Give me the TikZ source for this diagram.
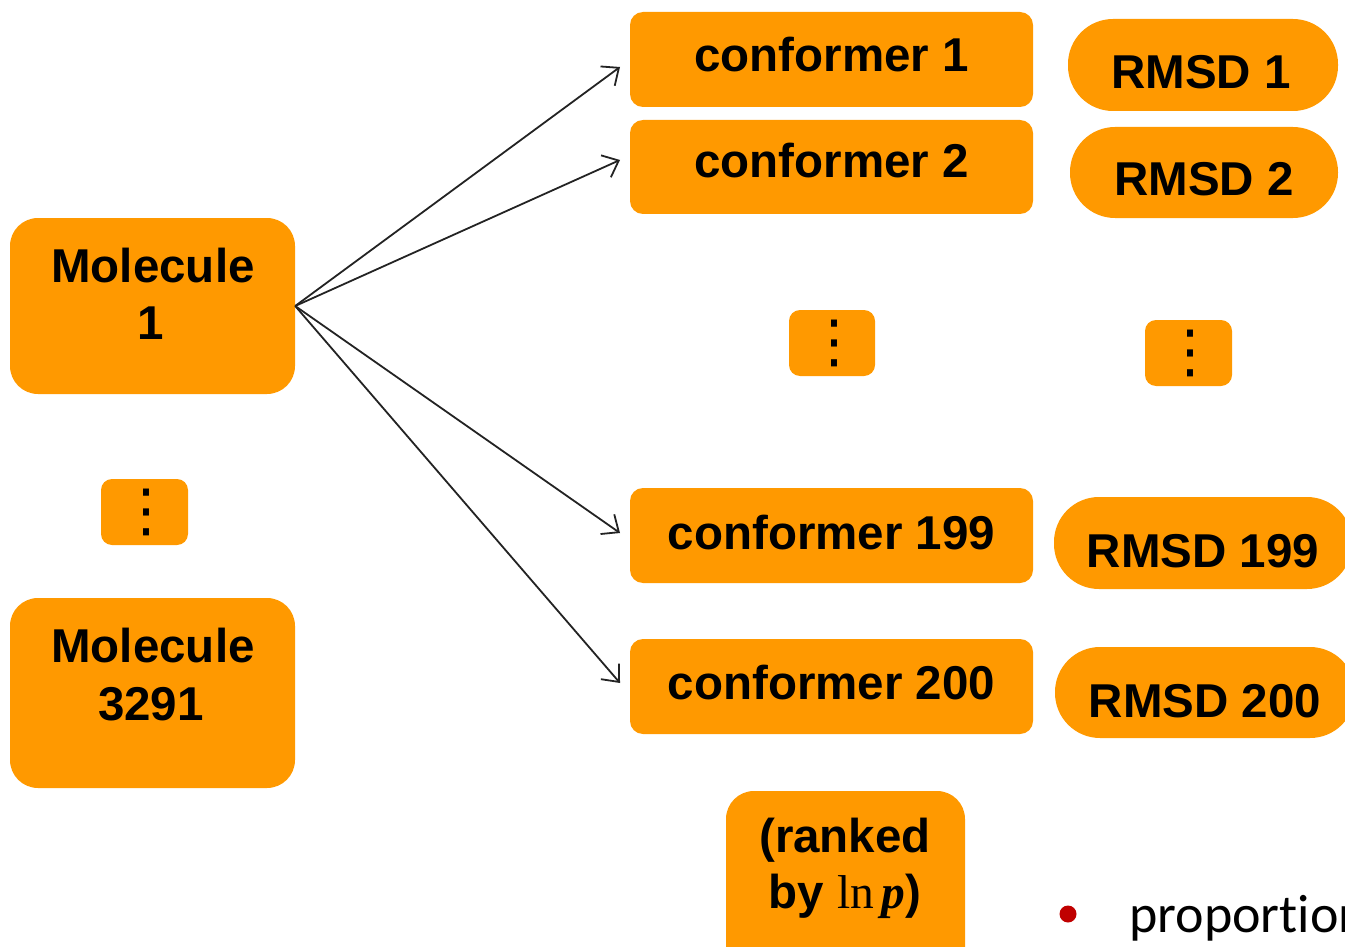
\documentclass[tikz,border=0pt]{standalone}
\usepackage{fontspec}
\setmainfont{Liberation Sans}
\newfontfamily\serifmath{Liberation Serif}
\newfontfamily\bodyfont[Ligatures=NoCommon]{Carlito}
\newfontfamily\symfont{DejaVu Sans}
\usetikzlibrary{arrows.meta}
\definecolor{boxorange}{RGB}{255,153,0}
\definecolor{bulletred}{RGB}{192,0,0}
\definecolor{arrowgray}{RGB}{35,35,35}

\tikzset{
  card/.style={rectangle, fill=boxorange, draw=none, rounded corners=13pt, inner sep=0pt},
  bigcard/.style={card, rounded corners=28pt},
  dotcard/.style={card, rounded corners=11pt, minimum width=87pt, minimum height=66pt},
  pill/.style={card, rounded corners=45pt},
  lbl/.style={anchor=base, inner sep=0pt, font=\fontsize{47.5}{57}\selectfont\bfseries},
  vdots/.style={inner sep=0pt, font=\symfont\fontsize{58}{58}\selectfont},
  link/.style={draw=arrowgray, line width=1.8pt,
    -{Straight Barb[length=14pt,width=24pt,line width=1.8pt]}},
}

\begin{document}
\begin{tikzpicture}[x=1pt,y=-1pt]
\useasboundingbox (0,0) rectangle (1345,947);
\clip (0,0) rectangle (1345,947);

% molecules
\node[bigcard, minimum width=285pt, minimum height=176pt] (m1) at (152.5,306) {};
\node[lbl] (m1a) at (153,282) {Molecule};
\node[lbl] (m1b) at (151,339) {1};

\node[dotcard] (ld) at (144.5,512) {};
\node[vdots] (ldt) at (146,512) {⋮};

\node[bigcard, minimum width=285pt, minimum height=190pt] (m2) at (152.5,693) {};
\node[lbl] (m2a) at (153,662) {Molecule};
\node[lbl] (m2b) at (151,720) {3291};

% conformers
\node[card, minimum width=403pt, minimum height=95pt] (c1) at (831.5,59.5) {};
\node[lbl] (c1t) at (831.5,72) {conformer 1};
\node[card, minimum width=403pt, minimum height=94pt] (c2) at (831.5,167) {};
\node[lbl] (c2t) at (831.5,178) {conformer 2};
\node[dotcard, minimum width=86pt] (cd) at (832,343) {};
\node[vdots] (cdt) at (834,343) {⋮};
\node[card, minimum width=403pt, minimum height=95pt] (c199) at (831.5,535.5) {};
\node[lbl] (c199t) at (831.5,549) {conformer 199};
\node[card, minimum width=403pt, minimum height=95pt] (c200) at (831.5,686.5) {};
\node[lbl] (c200t) at (831.5,699) {conformer 200};

\node[bigcard, minimum width=239pt, minimum height=209pt] (rk) at (845.5,895.5) {};
\node[lbl] (rka) at (845,852) {(ranked};
\node[lbl] (rkb) at (845,908) {by {\serifmath\mdseries ln}\,{\serifmath\bfseries\itshape p})};

% RMSD values
\node[pill, minimum width=270pt, minimum height=92pt] (r1) at (1203,65) {};
\node[lbl] (r1t) at (1201,89) {RMSD 1};
\node[pill, minimum width=268pt, minimum height=91pt] (r2) at (1204,172.5) {};
\node[lbl] (r2t) at (1204,196) {RMSD 2};
\node[dotcard] (rd) at (1188.5,353) {};
\node[vdots] (rdt) at (1190,353) {⋮};
\node[pill, minimum width=298pt, minimum height=92pt] (r199) at (1203,543) {};
\node[lbl] (r199t) at (1203,567) {RMSD 199};
\node[pill, minimum width=300pt, minimum height=91pt] (r200) at (1205,692.5) {};
\node[lbl] (r200t) at (1205,717) {RMSD 200};

% arrows from the molecule to its conformers
\coordinate (e1) at (620,67);
\coordinate (e2) at (620,160);
\coordinate (e199) at (620,533);
\coordinate (e200) at (620,683);
\draw[link] (m1.east) -- (e1);
\draw[link] (m1.east) -- (e2);
\draw[link] (m1.east) -- (e199);
\draw[link] (m1.east) -- (e200);

% bullet line
\node[circle, fill=bulletred, minimum size=17pt, inner sep=0pt] (bul) at (1068,914) {};
\node[anchor=base west, inner sep=0pt, font=\bodyfont\fontsize{54}{64}\selectfont] (prop) at (1129,932) {proportion};
\end{tikzpicture}
\end{document}
